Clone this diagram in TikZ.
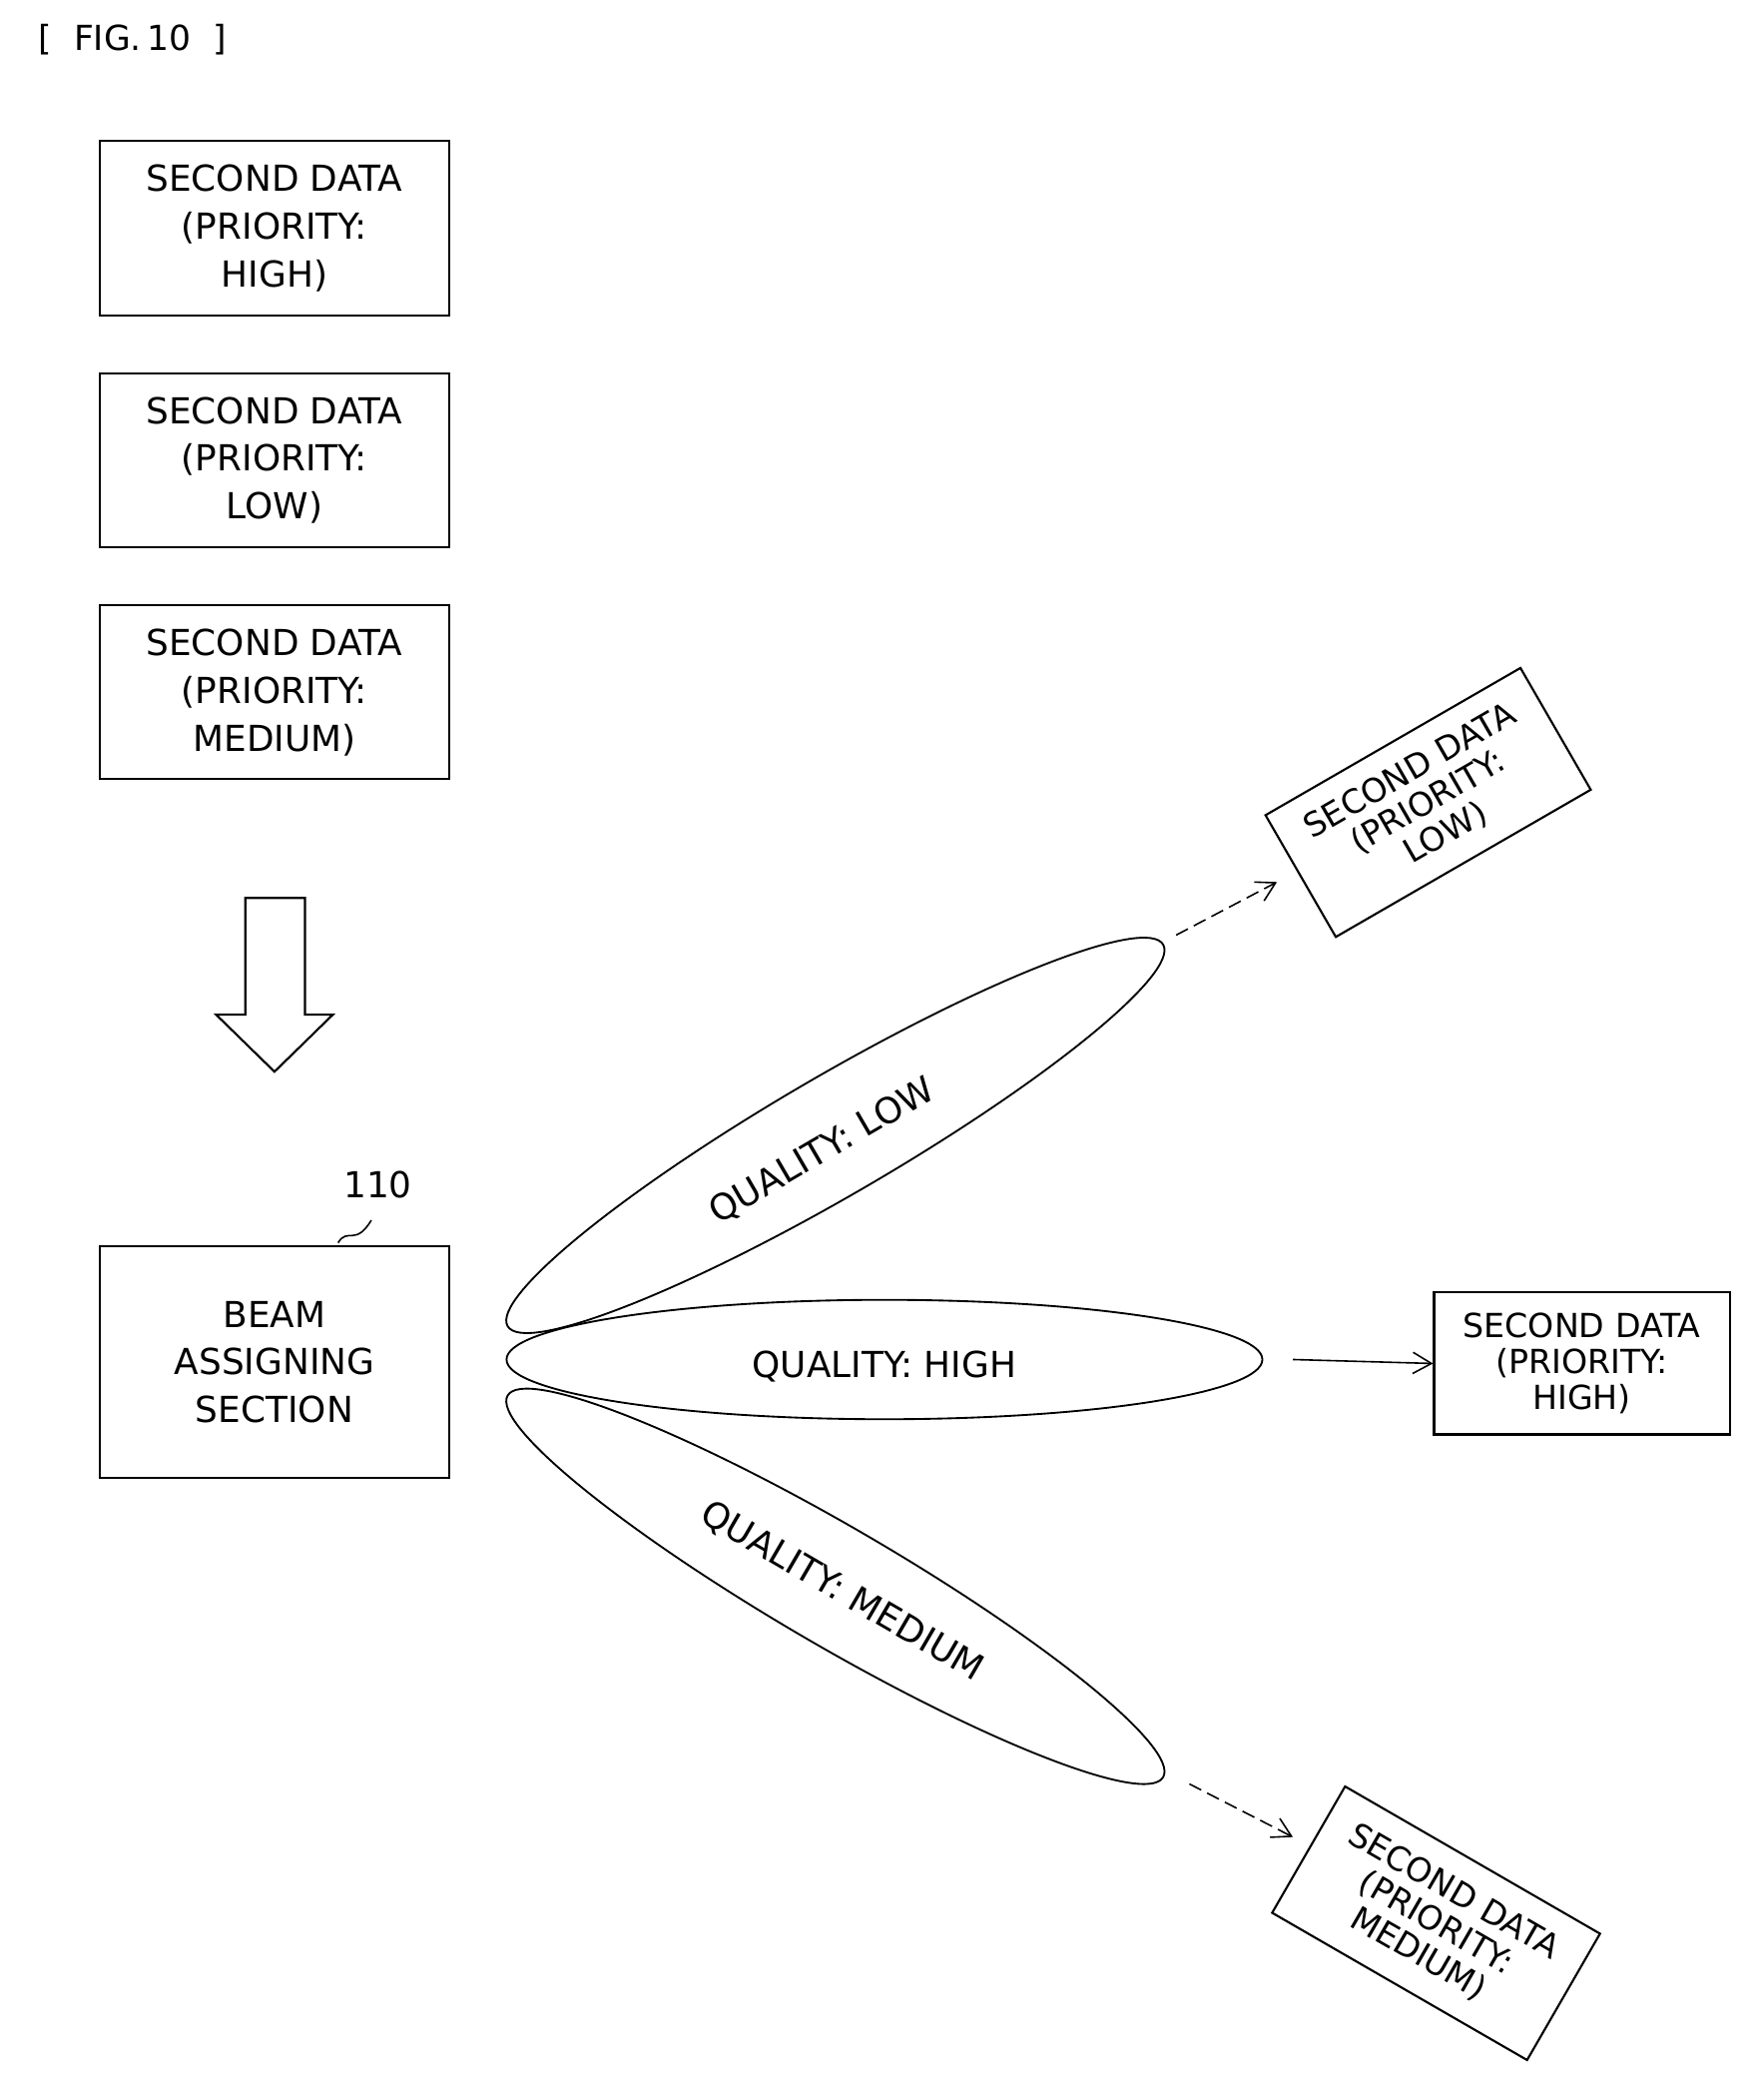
\documentclass[tikz,border=0pt]{standalone}
\usepackage{fontspec}
\setmainfont{DejaVu Sans}
\usetikzlibrary{arrows.meta}
\begin{document}
\begin{tikzpicture}[x=1pt,y=-1pt,
  box/.style={draw,line width=1.6pt,align=center,font=\fontsize{27}{36}\selectfont,inner sep=0},
  rbox/.style={box,font=\fontsize{25}{27}\selectfont},
  beam/.style={draw,line width=1.4pt},
  lab/.style={font=\fontsize{27}{32}\selectfont},
  arr/.style={-{Straight Barb[length=14pt,width=16pt]},line width=1.2pt}]
\useasboundingbox (0,0) rectangle (1330,1578);
\node[font=\fontsize{26}{30}\selectfont\rmfamily] (title) at (100,30) {[\ \ FIG.\,10\ \ ]};
\node[box,minimum width=264,minimum height=132] (b1) at (207,172) {SECOND DATA\\(PRIORITY:\\HIGH)};
\node[box,minimum width=264,minimum height=131] (b2) at (207,347) {SECOND DATA\\(PRIORITY:\\LOW)};
\node[box,minimum width=264,minimum height=131] (b3) at (207,522) {SECOND DATA\\(PRIORITY:\\MEDIUM)};
\draw[line width=1.6pt] (185,677) -- (230,677) -- (230,765) -- (251,765) -- (207,808) -- (163,765) -- (185,765) -- cycle;
\node[box,minimum width=264,minimum height=175] (bas) at (207,1027) {BEAM\\ASSIGNING\\SECTION};
\node[lab] (n110) at (285,893) {110};
\draw[line width=1.2pt] (255,937) .. controls (262,925) and (268,940) .. (280,920);
\draw[beam,rotate around={30.2:(630,856)}] (630,856) ellipse (286 and 45);
\draw[beam] (667,1025) ellipse (285 and 45);
\draw[beam,rotate around={-30.2:(630,1196)}] (630,1196) ellipse (286 and 45);
\node[lab,rotate=30.2] (ql) at (620,868) {QUALITY: LOW};
\node[lab] (qh) at (667,1030) {QUALITY: HIGH};
\node[lab,rotate=-30.2] (qm) at (635,1200) {QUALITY: MEDIUM};
\node[rbox,rotate=30,minimum width=222,minimum height=106] (r1) at (1077,605) {SECOND DATA\\(PRIORITY:\\LOW)};
\node[rbox,minimum width=223,minimum height=107] (r2) at (1193,1028) {SECOND DATA\\(PRIORITY:\\HIGH)};
\node[rbox,rotate=-30,minimum width=222,minimum height=110] (r3) at (1083,1450) {SECOND DATA\\(PRIORITY:\\MEDIUM)};
\coordinate (a1) at (887,705); \coordinate (a2) at (975,1025); \coordinate (a3) at (897,1345);
\draw[arr,dash pattern=on 10pt off 5pt] (a1) -- (963,665);
\draw[arr] (a2) -- (r2.west);
\draw[arr,dash pattern=on 10pt off 5pt] (a3) -- (975,1385);
\end{tikzpicture}
\end{document}
